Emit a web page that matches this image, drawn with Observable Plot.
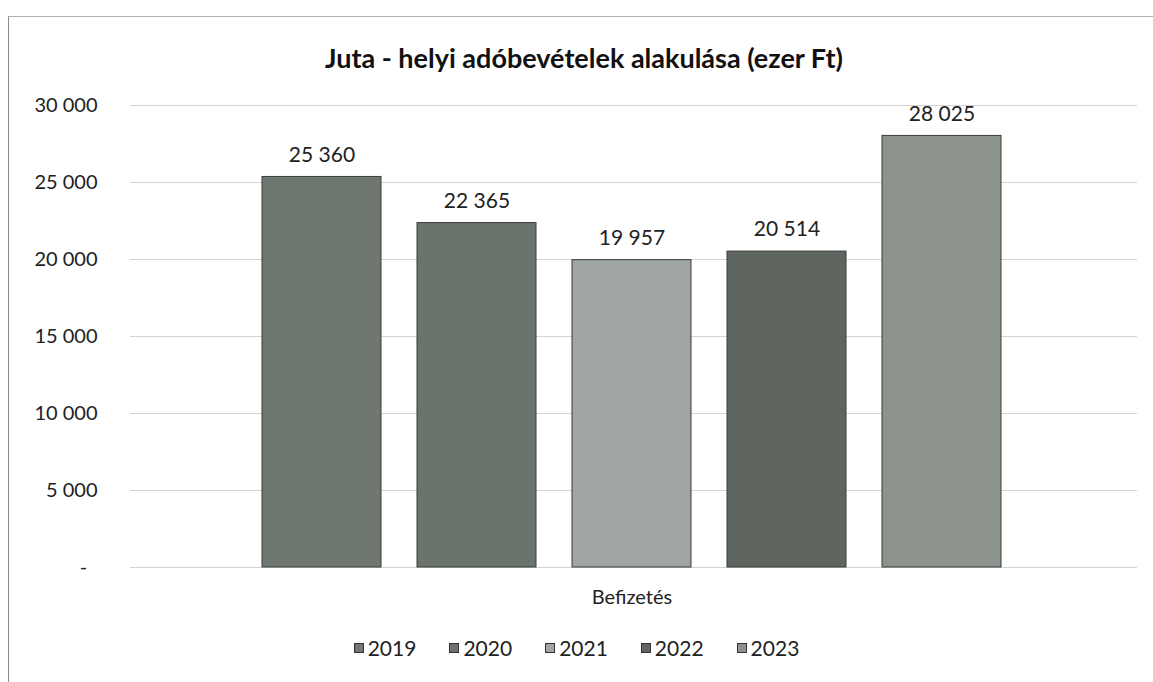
<!DOCTYPE html>
<html>
<head>
<meta charset="utf-8">
<script src="https://cdn.jsdelivr.net/npm/d3@7"></script>
<script src="https://cdn.jsdelivr.net/npm/@observablehq/plot@0.6"></script>
<style>
  html, body { margin: 0; padding: 0; background: #fff; }
  body { width: 1153px; height: 682px; position: relative; overflow: hidden; font-family: Lato, "Open Sans", sans-serif; }
  #frame { position: absolute; left: 8px; top: 16px; width: 1200px; height: 700px; border-left: 1px solid #8a8a8a; border-top: 1px solid #b0b0b0; box-sizing: border-box; }
  #title { position: absolute; left: 0; width: 1168px; top: 41px; line-height: 34px; text-align: center; font-weight: bold; font-size: 27px; color: #111; }
  #chart { position: absolute; left: 0; top: 0; }
  #legend { position: absolute; left: 0; width: 1153px; top: 634px; line-height: 28px; display: flex; justify-content: center; gap: 33px; box-sizing: border-box; font-size: 21px; color: #222; }
  #legend .item { display: flex; align-items: center; gap: 4px; }
  #legend .sw { width: 10px; height: 10px; border: 1px solid #333; box-sizing: border-box; }
</style>
</head>
<body>
<div id="frame"></div>
<div id="chart"></div>
<div id="title">Juta - helyi adóbevételek alakulása (ezer Ft)</div>
<div id="legend"></div>
<script>
const category = "Befizetés";
const years = ["2019", "2020", "2021", "2022", "2023"];
const values = [25360, 22365, 19957, 20514, 28025];
const colors = ["#6e7770", "#6b746c", "#a0a6a1", "#5e665f", "#8c938d"];
const yTicks = [0, 5000, 10000, 15000, 20000, 25000, 30000];

const data = years.map((y, i) => ({cat: category, year: y, value: values[i]}));
const fmt = v => d3.format(",")(v).replace(/,/g, " ");

const chart = Plot.plot({
  width: 1153,
  height: 682,
  marginLeft: 130,
  marginRight: 20,
  marginTop: 105,
  marginBottom: 115,
  style: {fontFamily: "Lato, 'Open Sans', sans-serif", background: "transparent", color: "#222"},
  fx: {domain: [category], padding: 0, label: null},
  x: {domain: years, paddingInner: 0.23, paddingOuter: 0.85, axis: null},
  y: {domain: [0, 30000], ticks: yTicks, label: null},
  color: {domain: years, range: colors},
  marks: [
    Plot.gridY(yTicks, {insetRight: -4, stroke: "#d4d4d4", strokeOpacity: 1, strokeWidth: 1.2}),
    Plot.axisY(yTicks, {
      tickSize: 0, tickPadding: 33, fontSize: 20, fill: "#222",
      tickFormat: d => d === 0 ? "-\u00a0\u00a0" : fmt(d)
    }),
    Plot.axisFx({anchor: "bottom", tickSize: 0, tickPadding: 22, fontSize: 20, fill: "#222", label: null}),
    Plot.barY(data, {fx: "cat", x: "year", y: "value", fill: "year", stroke: "#3a3d3a", strokeWidth: 1}),
    Plot.text(data, {fx: "cat", x: "year", y: "value", text: d => fmt(d.value), dy: -22, fontSize: 21, fill: "#222"})
  ]
});
document.getElementById("chart").appendChild(chart);

const legend = document.getElementById("legend");
years.forEach((y, i) => {
  const item = document.createElement("div");
  item.className = "item";
  const sw = document.createElement("span");
  sw.className = "sw";
  sw.style.background = colors[i];
  const t = document.createElement("span");
  t.textContent = y;
  item.appendChild(sw);
  item.appendChild(t);
  legend.appendChild(item);
});
</script>
</body>
</html>
